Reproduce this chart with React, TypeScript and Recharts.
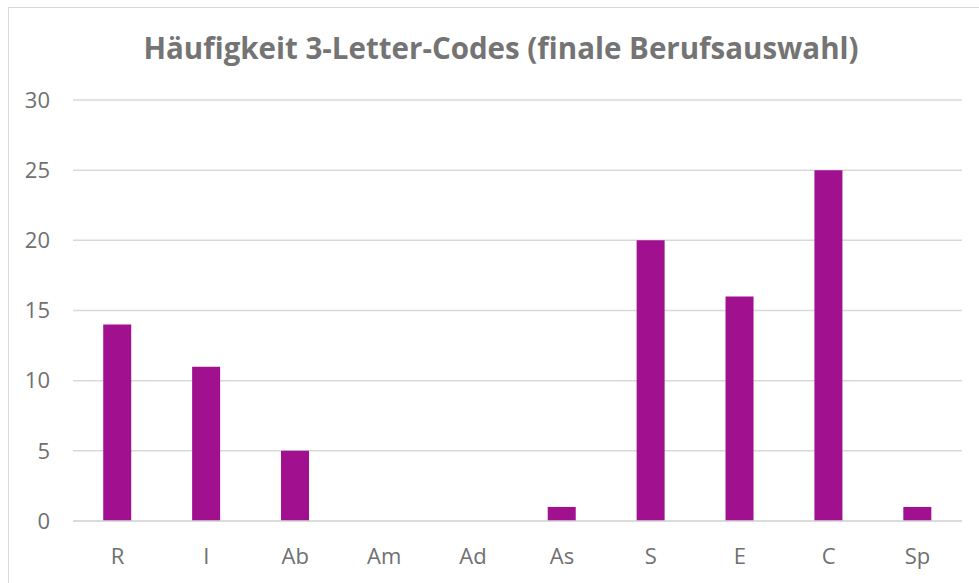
import React from 'react'
import { BarChart, Bar, CartesianGrid, XAxis, YAxis } from 'recharts'

const codes = ['R', 'I', 'Ab', 'Am', 'Ad', 'As', 'S', 'E', 'C', 'Sp']
const counts = [14, 11, 5, 0, 0, 1, 20, 16, 25, 1]
const yTicks = [0, 5, 10, 15, 20, 25, 30]

const chartData = codes.map((code, i) => ({ code, count: counts[i] }))

const styles = {
  frame: {
    position: 'absolute' as 'absolute',
    left: 8,
    top: 7,
    width: 970,
    height: 575,
    borderLeft: '1px solid #d9d9d9',
    borderTop: '1px solid #d9d9d9',
    background: '#ffffff',
    fontFamily: '"Open Sans", sans-serif'
  },
  title: {
    position: 'absolute' as 'absolute',
    left: 0,
    width: 984,
    top: 19,
    textAlign: 'center' as 'center',
    fontSize: 29.5,
    fontWeight: 700,
    color: '#747474',
    margin: 0
  }
}

const App: React.FC = () => {
  const tickStyle = { fill: '#707070', fontSize: 22, fontFamily: '"Open Sans", sans-serif' }

  return (
    <div style={styles.frame}>
      <h2 style={styles.title}>Häufigkeit 3-Letter-Codes (finale Berufsauswahl)</h2>
      <BarChart
        width={970}
        height={575}
        data={chartData}
        margin={{ top: 92, right: 17, bottom: 0, left: 0 }}
        barCategoryGap="34%"
      >
        <CartesianGrid vertical={false} stroke="#d9d9d9" strokeWidth={1.5} />
        <XAxis
          dataKey="code"
          axisLine={{ stroke: '#d9d9d9', strokeWidth: 1.5 }}
          tickLine={false}
          tick={tickStyle}
          tickMargin={21}
          height={62}
        />
        <YAxis
          domain={[0, 30]}
          ticks={yTicks}
          axisLine={false}
          tickLine={false}
          tick={tickStyle}
          tickSize={0}
          tickMargin={23}
          width={64}
        />
        <Bar dataKey="count" fill="#a0108f" isAnimationActive={false} />
      </BarChart>
    </div>
  )
}

export default App
